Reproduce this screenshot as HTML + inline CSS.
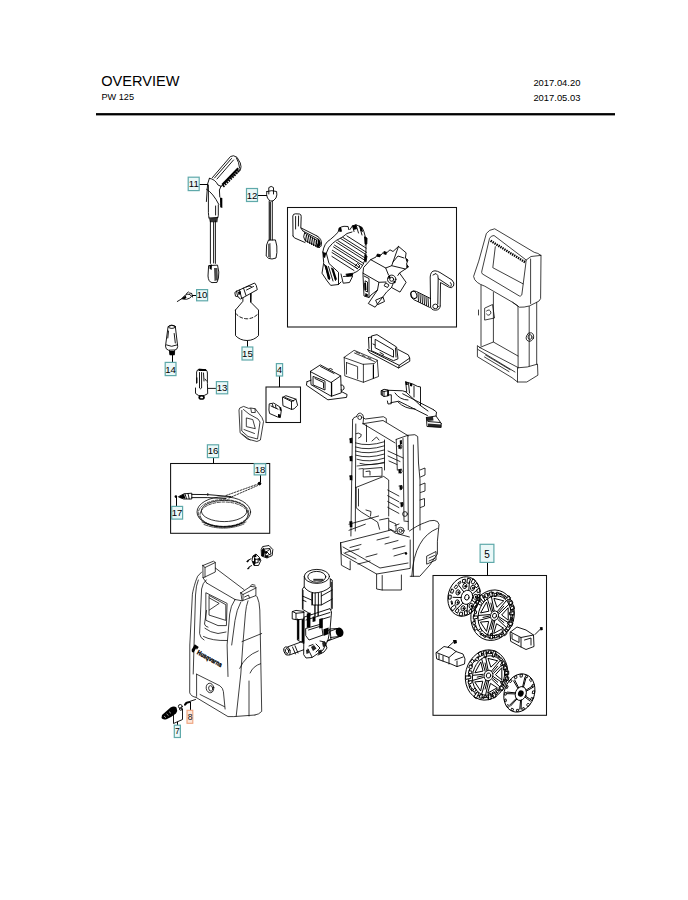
<!DOCTYPE html>
<html><head><meta charset="utf-8"><title>Overview PW 125</title>
<style>
html,body{margin:0;padding:0;background:#fff;}
body{width:688px;height:900px;overflow:hidden;position:relative;font-family:"Liberation Sans",sans-serif;}
svg{position:absolute;left:0;top:0;}
.t{font-family:"Liberation Sans",sans-serif;fill:#000;}
.lb rect{fill:#eaf8f8;stroke:#5fa9aa;stroke-width:1.2;}
.lb text{font-family:"Liberation Sans",sans-serif;font-size:9.6px;fill:#000;text-anchor:middle;}
.d{fill:none;stroke:#000;stroke-width:0.9;stroke-linejoin:round;stroke-linecap:round;}
.d2{fill:none;stroke:#000;stroke-width:1.3;}
.f{fill:#000;stroke:none;}
.l{stroke-width:0.85;stroke-dasharray:2.8,1.0;stroke-linecap:butt;}
.w{fill:#fff;stroke:#000;stroke-width:0.9;stroke-linejoin:round;}
</style></head>
<body>
<svg width="688" height="900" viewBox="0 0 688 900">
<!-- header -->
<text class="t" x="101.3" y="85.7" font-size="14.9" textLength="78.2" lengthAdjust="spacingAndGlyphs">OVERVIEW</text>
<text class="t" x="101.4" y="100.2" font-size="9.6" textLength="32.6" lengthAdjust="spacingAndGlyphs">PW 125</text>
<text class="t" x="533.4" y="86" font-size="9.9" textLength="47" lengthAdjust="spacingAndGlyphs">2017.04.20</text>
<text class="t" x="533.4" y="100.8" font-size="9.9" textLength="47" lengthAdjust="spacingAndGlyphs">2017.05.03</text>
<rect x="96" y="113.1" width="519" height="2.3" fill="#000"/>

<!-- group boxes -->
<g fill="none" stroke="#111" stroke-width="1.05">
<rect x="287.5" y="207.5" width="169" height="119.5"/>
<rect x="170.6" y="463.5" width="99.1" height="69.8"/>
<rect x="266" y="387" width="34.5" height="35.5"/>
<rect x="433" y="575.5" width="113.5" height="139.8"/>
</g>

<!-- PARTS_START -->
<!-- gun 11 -->
<g class="d">
<path d="M212.4,177.6 L230.5,156.5 Q233.4,154.6 237,157.3 L240.3,163 Q241.6,167 240.5,169.6 L221,186.3"/>
<path d="M214.5,178 L231.5,158.5 M217,179 L233.5,160"/>
<path d="M236.5,158 Q239,162 239.6,168" />
<path d="M209.4,178.3 Q215,179 218,185 L221,186.3"/>
<path d="M209.4,178.3 L207.6,184 L206.4,201.5"/>
<path d="M208.4,185 L208.4,212.6 Q208.6,216 209,217.8"/>
<path d="M206.6,189.3 Q213,193 218.8,204.4"/>
<path d="M221,186.3 L219.4,190 L219.8,197 M218.3,205 L218.3,215.5 L217.7,217.8"/>
<path d="M215.6,206 L215.6,215"/>
<path d="M209,218 L217.7,217.5"/>
<path d="M210.4,221 L210.4,263.4 M215.4,221 L215.4,263.4 M213.6,222 L213.6,263"/>
<path d="M208.6,266 L208,276 Q208.4,282 212,282.6 L217,282.4 Q219,279 218.8,272 L217.6,265.5 Z"/>
</g>
<path class="f" d="M221.5,184 L237.5,167.5 L239,169 L223,185.5 Z"/>
<path d="M223,186.5 L240,169.5" stroke="#000" stroke-width="2.6" stroke-dasharray="1.6,1.0" fill="none"/>
<path d="M226,181 L236.5,170 M229,178 L236,171" stroke="#000" stroke-width="0.8" stroke-dasharray="1.5,1.2" fill="none"/>
<path class="f" d="M220,197.4 L222.3,198 L222.3,207.9 L220.2,207.2 Z"/>
<path class="f" d="M209,218.2 L218,217.6 L217.4,222.2 L210,222.2 Z" opacity="0.8"/>
<path class="f" d="M209.4,265 L212,264.6 L211.6,270 L209.6,268.8 Z"/>
<path class="f" d="M214,268 L217.4,268 L218,280 L214.5,281 Z" opacity="0.7"/>
<!-- lance 12 -->
<g class="d">
<path d="M268.8,194 L268.8,187.6 Q271.2,185.2 273.5,187.6 L273.5,194"/>
<path d="M266.8,191.5 Q266,195 267.5,198 L270,201 L273,201 L276,198 Q277.4,195 276.6,191.5 Q272,189.8 266.8,191.5"/>
<path d="M269.2,201 L269.2,240 M272.3,201 L272.3,240"/>
<path d="M268.3,240.5 L266.6,245 L266.2,256 Q268,259.2 272,259 L276,258 Q277.4,253 276.8,246 L275.5,240.3 Z"/>
</g>
<path class="f" d="M269.6,202 L270.8,202 L270.8,240 L269.6,240 Z"/>
<path class="f" d="M268,244 L270.5,243 L271,258 L268,257 Z" opacity="0.6"/>

<!-- box1: reel parts -->
<g class="d">
<!-- L crank left -->
<path d="M293,236 L292.8,216 Q293,213.8 295.5,213.8 L299.5,214 Q301.4,214.5 301.2,216.5 L300.8,228 L303,231"/>
<path d="M295.6,216.5 L295.6,229 M298.6,216 L298.4,226"/>
<path d="M293,236 Q294,238.5 297,239 L305,242.5"/>
<path d="M301.2,228 L317,236 M303,231 L319,239.5"/>
<path d="M304.5,233 L316.5,240 Q315.5,245 319.5,247.5 L305,240.5 Q302.5,237 304.5,233 Z"/>
<path d="M317,236 Q322,238.5 321.5,244.5 Q321,248.4 317,247.3"/>
<path d="M306.5,235 L305.5,241 M308.5,236 L307.5,242.2 M310.5,237 L309.5,243.3 M312.5,238 L311.5,244.4 M314.5,239 L313.5,245.5 M316.5,240 L315.8,246.5" stroke="#000" stroke-width="1.1" fill="none"/>
<path class="f" d="M317.5,238.5 Q321,240 320.8,244.5 Q320,247.5 317.3,247 L316.3,246.5 Q318.5,243 317.5,238.5 Z"/>
<!-- hub 1 -->
<path d="M322.8,252 Q324,243 330.3,239.5 Q334,236.5 338.1,232.2 L339,228.5 Q341,226.5 344,226.3 L348.1,226.5 L348.8,229.6 M349.9,229.6 L352.5,225.8 L356,224.8 L362.1,227.4 L363.8,231.3 Q366.6,238 366,246.2 Q366.2,253 365.1,259.2 Q363.5,265 360.3,268.8 Q357,272 353.4,273.2 L346,274.2"/>
<path d="M326.3,253.1 Q328,247 332.4,243.5 Q336,240 342,237.4 L347,233.5 L352,232"/>
<path d="M346.9,235.9 L366.1,248.1 M342.8,237.3 L366.6,252.4 M340.7,238.5 L366.4,254.8 M337.9,240.7 L365.6,258.3 M336.4,242.3 L364.8,260.3 M334.5,245.1 L363.2,263.2 M333.5,246.9 L361.9,264.9 M332.4,250.3 L359.4,267.4 M332.0,252.5 L357.5,268.7 M331.9,256.4 L354.0,270.5"/>
<path d="M352.5,225.8 L354,231.5 M356,224.8 L358.5,233 M359.5,226 L362,235"/>
<path d="M322.8,252 L323.7,262.7 L322,273.2 L327.2,281 L330.7,285.4 L338.5,284.5 L341,282 M326.3,253.1 L329,263.5 L338.5,272.3 L338.5,284.5"/>
<path d="M328.5,266.5 L333,281 M331.5,268 L335.5,280.5 M324.5,264.5 L329.5,279.5"/>
<path d="M341,274 L343.2,283.2 L349.5,282.5 L352.5,276.5 M343.5,276.5 L349,276"/>
<path d="M364.5,237 L367,238 L366.8,244 L365,245 M364.5,255 L367,256 L366,262"/>
<path d="M355,266 L357.5,263.5 L360,266 L357.5,268.5 Z"/>
<path class="f" d="M352.5,225.8 L356,224.8 L357,229 L353.5,230 Z M359.5,226 L362.1,227.4 L363,232 L360.5,231 Z"/>
<path class="f" d="M324.5,264.5 L327,266 L330.5,278.5 L328,279.5 Z M331.5,268 L333.5,268.5 L337,279.5 L335,280 Z"/>
<path class="f" d="M338.6,228 L341,226.8 L342,231.5 L339.5,232 Z M364,236.5 L367,238 L366.8,244 L364.6,244 Z M364.5,255 L367,256 L366,262 L364,261 Z"/>
<path class="f" d="M322.8,252 L326.3,253.1 L325,258 L323.2,257 Z M346,274.2 L353.4,273.2 L352.5,276.5 L346.5,276.8 Z"/>
<!-- hub 2 cross -->
<path d="M371,259.5 L376,257 L377.5,254 L381,255 L384,251.5 L387,252.5 L390,249.8 L393,251.5 L398.5,246.4 L406.1,252.8 L405.4,258 L408,260 L406.5,264 L408.5,267 L405.4,269 L399.5,273 L406.1,282.3 L400,292.1 L391.5,287.5 L386.5,292.1 L375.1,307.2 L368.3,303.5 L377.5,290 L371,295 L369,297.5 L364,296 L363,275.5 L363,273.2 L363.5,268 Z"/>
<path d="M370.6,259.6 L385.7,268 L391.7,265.7 L398.5,246.4 M385.7,268 L388.5,275"/>
<path d="M363,273.2 L378.9,282.3 L377.5,290 M378.9,282.3 L386,282"/>
<path d="M397.8,275.5 L399.5,273 M391.5,287.5 L393,284"/>
<path d="M391.7,265.7 L405.4,269 M393,262 L398,256 L404,258"/>
<path d="M364,276 L369,278.5 L369,297.5 M365.5,281 L367.5,282 L367.5,292 L365.5,291 Z"/>
<path d="M376,300 L383,297 L384.5,301.5 L378,304.5 Z"/>
<circle cx="391.7" cy="279.3" r="4.2"/>
<circle cx="391.7" cy="279.3" r="2.0"/>
<path d="M386,283 L389,285 L387.5,287.5 L384.5,286 Z"/>
<path class="f" d="M377,254 L381,255 L380,257.2 L377,256.8 Z M384,251.5 L387,252.5 L386.2,255 L383.2,254 Z M405.4,258 L408,260 L406.5,262 Z M406.5,264 L408.5,267 L406.2,268 Z"/>
<path class="f" d="M364.2,283 L366,283 L366.5,290 L364.5,290 Z M365.5,293 L368,294.5 L367.5,297 L365,296 Z"/>
<path class="f" d="M388,276 L390,275.5 L390.5,278 L388.5,279 Z M393.5,281 L395.5,280.5 L395.5,283 L393.5,283.5 Z" />
<!-- crank right -->
<path d="M430.6,307 L430.2,277 Q430.5,270.8 435,270.8 Q437.5,271 440,272.5 L452,280 Q455,283 453.5,286 Q451.5,289 448.5,287 L440.5,282.5 L440.2,306"/>
<path d="M433,275 L436,273.5 Q438.5,275 438.2,278.5 L437.8,304"/>
<path d="M438.2,278.5 L449.2,285.8 M450.5,282.5 Q452.2,284 451,286.5"/>
<path d="M440.2,306 Q440,310 435.5,310.2 Q431,310 430.6,307"/>
<ellipse cx="435.4" cy="306.4" rx="2.6" ry="2.3"/>
<path d="M430.5,298.5 L416.5,291.5 Q412,290 411,293.5 Q410,297.5 413.5,299.5 L429.5,307.3"/>
<ellipse cx="413.8" cy="294.8" rx="2.8" ry="3.8" transform="rotate(-25 413.8 294.8)"/>
<path d="M418,293 L418.5,301.5 M420,294 L420.5,302.5 M422,295 L422.5,303.5 M424,296 L424.5,304.5 M426,297 L426.5,305.5 M428,298 L428.5,306.2"/>
</g>

<!-- rear housing (top right) -->
<g class="d" style="stroke-width:0.75">
<path d="M486.6,233.1 Q489,229.5 494.7,228.8 L534.2,252.3 Q538,253 541,255.4 L540.6,298.6 Q539.5,301.5 536.7,302.3 L529.2,306 Q524,307.5 519.4,307.2 L512.6,302.3 L484.8,286.2 Q480,284.5 477.4,282.5 Q474,280 473.6,276.4 L478.6,261.5 Z"/>
<path d="M489.7,238 Q491,235.5 494,235.5 L526.2,260 L525.5,266 L521.8,294.9 Q520.5,296.5 519.4,296 L482.3,273.9 Q481.3,272.5 481.7,271.4 Z"/>
<path d="M495.3,246.7 L492.8,267.7 L523,283.8"/>
<path d="M526.2,260 L531,256.5 L541,255.4 M530.6,259 L530.6,303.5"/>
<!-- lower body -->
<path d="M481,285 L481,345.6 M493.4,292.5 L493.4,341.9"/>
<path d="M512.6,302.3 L518,306 L518.1,367.8 M529.2,306.5 L529.2,366 M536.7,302.3 L536.7,364.1"/>
<path d="M518.1,367.8 Q527,368 537.5,364.1 L537.9,375.2 L526.8,382 L517.5,382 L512,377.7 L477.4,356.7 L477.4,345.6 L479.8,347.5"/>
<path d="M479.8,347.5 L493.4,342 L518,356 M479.8,347.5 L518,367.5 M478,349.5 L515,372 M517.5,368 L517.5,382"/>
<path d="M484.5,357 L509,371.6 M485.5,355 L510,369.6"/>
<ellipse cx="530" cy="337" rx="3.6" ry="4.4" transform="rotate(20 530 337)"/>
<ellipse cx="530" cy="337" rx="2" ry="2.4"/>
<path d="M485,308 L492.5,304.5 L494.5,318 L485,320 Z M486.5,311 Q490,308 491,313 Q489,317 486.5,314"/>
<path d="M478.5,310 L478.5,315"/>
</g>
<path d="M490.6,240.8 L525.8,262.6" stroke="#000" stroke-width="2.4" stroke-dasharray="1.4,0.9" fill="none"/>

<!-- nozzle 10 -->
<g class="d">
<path d="M177.3,301.5 L183,298"/>
<path d="M182,298.5 L185,295.2 Q188,293.5 190,294.5 L191.5,296.5 Q190,298.5 187,299.2 Z"/>
<path d="M186.5,293.5 L188.5,292 M189.5,293 L191.8,293.5 M192,294.5 L192.5,297"/>
</g>
<path class="f" d="M182.3,298 L185.5,295.5 L186.5,297.7 L184,299.6 Z"/>
<!-- bottle 15 -->
<g class="d">
<path d="M235.5,310 L235.5,335.6 Q240,340.4 247,340.5 Q254,340.4 258.5,335.6 L258.5,310 L250.7,302.1 L250.7,294 M235.5,310 L242.9,301.3 L242.9,298"/>
<path d="M235.8,313.5 Q240,318.5 247,318.8 Q254,318.5 258.3,313.5" stroke-dasharray="3,2.2"/>
<path d="M236.7,291.2 L254.6,283 Q256.6,284.5 257.3,289.7 L240.6,299 Q237,297.5 236.7,291.2 Z"/>
<path d="M239.5,290 L241.5,297.7 M243.5,288 L246,295.5 M246,287 Q249,285.2 251.3,286.4 M246.5,290 L253.5,286.5"/>
<path d="M236.7,291.2 L234.8,292.5 L235.5,296.2 L237.5,296.6"/>
</g>
<path class="f" d="M250.2,293.2 L251.6,293 L251.4,302.5 L250.1,302.2 Z"/>
<path class="f" d="M238,292 L240.5,291 L241,294 L238.5,295 Z"/>
<!-- nozzle 14 -->
<g class="d">
<path d="M168.4,326.4 Q171.8,324.2 175.3,326.4 L177.7,346.5 Q177.5,349.5 175,350 L168.5,350.2 Q165.5,349.5 165.5,346.5 Z"/>
<ellipse cx="171.9" cy="326.8" rx="3.4" ry="1.6"/>
<path d="M168.5,331 L167.8,338 M174.2,333.5 L175.3,343 M166.5,345 Q171.5,347.8 177,345"/>
<path d="M169.5,350.5 L169.8,354.8 L174.5,354.8 L174.6,350.5"/>
</g>
<path class="f" d="M169.4,351 L174.6,351 L174,355 L170,355 Z"/>
<!-- part 13 -->
<g class="d">
<path d="M196.6,383.3 L196.6,372 Q197,369.3 199.5,369.3 L205.9,369.6 Q207.4,371 207.4,373 L207.4,383.5 L207.7,393.7 Q204,396 201.5,396 Q198,396 195.5,393.4 L195.5,388"/>
<path d="M199.5,372.5 L199.5,388 Q200.5,389.5 201.6,388 L201.6,372.5"/>
<path d="M203.5,373 L204,381 M205,379 L206.5,381"/>
</g>
<path class="f" d="M198.6,368.8 L206,369.2 L206.2,371 L198.5,371 Z"/>
<path class="f" d="M196.2,377.4 L197.4,377.4 L197.4,383 L196.2,383 Z"/>
<ellipse class="f" cx="201.6" cy="397.4" rx="3.2" ry="2.4"/>
<ellipse cx="201.6" cy="397.4" rx="1.5" ry="0.9" fill="#fff"/>
<line class="d" x1="208.3" y1="388.4" x2="216.4" y2="388.4"/>

<!-- part 4 contents -->
<g class="d">
<path d="M269.6,403.8 L273.7,403.1 L279.8,406.9 L281.3,410.4 L280.3,417.6 L277.7,417 L269.6,413.5 L269,410.4 Z"/>
<path d="M271,406 L278,409.2 M272.5,404.5 L273.2,407 M275.5,405.5 L276,408"/>
<path d="M282.8,397.2 L285.9,395.7 L296,399.2 L297.6,405.3 L294,408.9 L291.5,409.4 L283.3,405.9 Z"/>
<path d="M282.8,397.2 L291.5,401.5 L296,399.2 M291.5,401.5 L291.5,409.4 M285,397.5 L293.5,401"/>
</g>
<path class="f" d="M279.5,407 L281.3,407.5 L281.5,411 L279.8,410.5 Z M278,414 L280.5,414.5 L280.3,417.6 L278,417 Z"/>
<!-- part 9 -->
<g class="d" style="stroke-width:0.75">
<path d="M240.1,407.9 L243.6,406.4 L248.7,408.4 L250.8,408 L255.3,408.8 L262,417.6 L263.5,421.6 L260.4,440 L256.9,441.5 L247.2,438.9 L240.1,432.8 L239,410.4 Z"/>
<path d="M241.8,410.5 L241.8,431 L248,436.5 L257.5,439 L260,422 L258,419 L249,414 L243.5,409.5"/>
<path d="M246.7,418 L252.8,419.6 L255.3,428.7 L246.7,426.7 Z"/>
<path d="M250.8,408.4 L251.5,412.5 L255.3,412.5 L255,408.6"/>
<path d="M244,429.5 L254.5,433.5 M242,434 L250,440"/>
</g>
<!-- part A -->
<g class="d">
<path d="M310.5,371.3 L320.3,364.9 L340.7,375.9 L331.4,382.3 Z"/>
<path d="M310.5,371.3 L311,384.7 L331.4,396.3 L331.4,382.3 M340.7,375.9 L341.3,392.8 L331.4,396.3"/>
<path d="M313.4,376.5 L325,381.2 L325,390 L313.4,385 Z M315,378.5 L323.5,382.5 L323.5,388"/>
<path d="M307,381.7 L306.4,385.2 L327.9,399.8 L346.5,397.4 L347.1,394.5 L341.3,391.5 M307,381.7 L311,380.2"/>
<path d="M320.5,366.5 L334,373.5 M328.5,369.2 Q330.5,367.3 332.5,369.5"/>
<path d="M341,385 Q344.5,384.5 344,389 Q342.5,391 341,390"/>
</g>
<path class="f" d="M331,382.5 L332.2,382.5 L332.2,396 L331,396 Z"/>
<!-- part B -->
<g class="d" style="stroke-width:0.75">
<path d="M344.2,357.3 L354.1,350.3 L377.3,360.2 L374.4,363.5 L363.4,364.3 Z"/>
<path d="M344.2,357.3 L344.8,375.9 L363.4,382.3 L363.4,364.3 M377.3,360.2 L378.5,376.5 L363.4,382.3"/>
<path d="M346.5,362.6 L357.6,366.6 L357.6,378.8 M346.5,362.6 L346.5,374"/>
<path d="M354.5,353 L374.5,361.5 M356,352 L359.5,353.5 M362,355 L365,356.5 M368,357.5 L371,359"/>
</g>
<path class="f" d="M372.8,364.5 L374,364.3 L374,378.5 L372.8,378.7 Z"/>
<!-- part C -->
<g class="d">
<path d="M371.8,335.9 L377,334.6 L396.6,347 L398,358.8 L393.4,360.7 L371.8,350.9 Z"/>
<path d="M375.5,339.5 L393.5,350 L393.5,357.2 L375.5,348 Z"/>
<path d="M367.8,349.6 L399.2,365.3 L409.7,358.1 L408.4,354.9 L398,349.5"/>
<path d="M367.8,349.6 L369.5,352.5 L398.6,368 L399.2,365.3 M398.6,368 L409.8,361.2 L409.7,358.1"/>
<path d="M368.5,337.5 L371.8,337 M368.5,337.5 L369,348.5 M373,344 L375,345"/>
<path d="M380,352.5 L383.5,354.5 L382.5,356 M395.5,348 L396,357"/>
</g>
<!-- part D bracket -->
<g class="d">
<path d="M381.5,390.5 L384,389.3 L388.4,390 L388.4,395.8 L384,396.5 L381.5,395 Z M381.5,390.5 L384,391.5 L388.4,390.6 M384,391.5 L384,396.5"/>
<path d="M387.4,395 L391.3,394.8 L391.3,403.7 L388,404 L387.4,401"/>
<path d="M388.9,390.3 L402.7,390.8 L405.7,391.8 M390.8,402.7 L398.8,401.2 L407.6,405.6 L427.4,415.5"/>
<path d="M405.7,381.9 L406.7,391.8 M405.7,381.9 L412.6,383.9 L417.5,386.4 L420.5,386.9 L420.5,405.6 M414,386 L414,397 M408.5,383 L409.5,393"/>
<path d="M402.7,393.8 L433.3,409.6 M405.7,391.8 L420.5,405.6 L428,411"/>
<path d="M433.3,409.6 L436.5,412 L436,416 L441.2,423.4 M426.4,417.5 L436,416"/>
<path d="M395,393 Q400,400 408,400 M398,402 Q405,409 415,409"/>
<path d="M426.4,417.5 L427,426.5 L441.2,427.4 L441.2,423.4 M428,421.5 L440,422.5"/>
</g>
<path class="f" d="M381.5,390.5 L382.6,390.2 L382.8,395.4 L381.5,395 Z M387.2,390 L388.6,390 L388.6,396 L387.2,396 Z"/>
<path class="f" d="M426.5,417.5 L433,416.8 L433.5,420.5 L427,421 Z M428,423.5 L441,424.5 L441,427.4 L428,426.8 Z" opacity="0.85"/>
<path class="f" d="M405.4,381.8 L407.5,382 L407.8,385 L405.7,385 Z M410,383 L412.5,384 L412,386.5 L410,386 Z"/>
<!-- main frame -->
<g class="d" style="stroke-width:0.8">
<!-- left post -->
<path d="M352.6,419.6 L350.9,536 M355.8,424 L355.3,531"/>
<path d="M352.6,419.6 Q353,417 356.6,416.5 M356.6,416.5 Q357.5,412.8 360.5,413.2 Q363.6,414 363.6,418 L363,423.7"/>
<circle cx="359.8" cy="417.5" r="2"/>
<path d="M349.5,439 L352,438 L352,443 M349.5,457 L352,456 L352,461 M349.5,476 L352,475.5 L352,480 M349.5,522 L352,521.5 L352,527"/>
<path d="M356,433.6 Q358,432 361.3,434.5 Q361.5,437.5 358.5,438.2"/>
<!-- top rail -->
<path d="M363.6,418 L365.3,419 L383.4,416.7 L386.3,418.5 L386.3,422.5 L408.4,435.9 M363,423.7 L383,420.5 L386.3,422.5 M365.9,425.4 L395,442.9 M363,423.7 L365.9,425.4 M366.5,425 L366.5,441.7"/>
<!-- right post -->
<path d="M396.2,439.4 L407.8,435.3 L414.8,434.7 L417.7,436.5 L418.5,463 L420,480 L420,530 M407.8,435.3 L408.3,529.7 M396.2,439.4 L397.3,470 M403,438.5 L404,520"/>
<path d="M398,446 L401,444.5 Q403,447 401,449 M398,470 L401.5,469 Q403,472 401,473.5 M399,486 L402,485.5 Q403.5,488.5 401,490 M400,503 L403,502.5 Q404,506 401.5,507"/>
<path d="M420,470 L425,468 L425,475 L420.5,477 M420,485 L425,483 L425,491 L420.5,492.5 M420,500 L424.5,498.5 L424.5,506 L420.5,507.5"/>
<!-- motor cradle coil -->
<path d="M355.5,442.9 Q368,447 384.5,441.7 M355.5,447 Q368,451 384.5,445.8 M355.5,451.1 Q368,455 384.5,449.9 M356,455.2 Q368,459 384.5,454 M357,459.3 Q369,463 384.5,458.1 M360,463.4 Q370,466.5 384.5,462.2"/>
<path d="M384.5,440 L384.5,470 M388,451 L403.1,458 M388,456 L400,461.5 M389,461 L397,464.5"/>
<path d="M363.6,469 L382,467.5 L382,476.2 L363.6,477 Z M366,471.5 L370,471 L370,475"/>
<path d="M372,441 L376.5,437 L379,440"/>
<!-- middle lower region -->
<path d="M355.5,487.6 L383.7,476.4 L388.7,480 L388.7,516 M356.2,487.6 L356.2,507.9 L361.3,512 L377.6,522.1 L379.6,529.3 M379.6,520 L388.7,518.1 L388.7,530.3 M358.5,489 L358.5,506"/>
<path d="M387.7,495.7 L398.9,501.8 M387.7,501.5 L398.9,507.6 M387.7,507.3 L398.9,513.4 M387.7,490 L398.9,496"/>
<path d="M349,524.2 L378.6,516 M349,530.3 L365.3,524.2 M366,510 L371,511.5 L370.5,516"/>
<path d="M389.4,521 L396,524 L396,532 L389.4,529"/>
<circle cx="405" cy="514" r="2.4"/>
<circle cx="400.6" cy="530.8" r="3.5"/>
<circle cx="400.6" cy="530.8" r="1.6"/>
<path d="M395,525.5 L399,524 M404,521 L408,521.5"/>
<path class="f" d="M349.6,438.5 L351.8,438 L352,443 L349.8,443.2 Z M349.6,456.5 L351.8,456 L352,461 L349.8,461.2 Z M349.6,475.8 L351.8,475.5 L352,480 L349.8,480.2 Z M349.6,521.8 L351.8,521.5 L352,527 L349.8,527.2 Z"/>
<path class="f" d="M398.2,445.5 L400.5,444.8 L401,448.6 L398.6,449 Z M398.4,469.6 L400.8,469 L401,473 L398.6,473.4 Z M399.5,485.8 L401.8,485.4 L402,489.5 L399.7,489.8 Z M400.5,502.8 L402.8,502.4 L403,506.6 L400.7,507 Z"/>
<path d="M357,466 L384,463 M359,469 L363,468.5" fill="none" stroke="#000" stroke-width="0.7"/>
<!-- floor -->
<path d="M340.6,542.8 L391,530 M340.6,542.8 L341.4,554 L376.6,574 L410.2,568.4 L410.2,540"/>
<path d="M340.6,542.8 L341.4,565.2 L350.2,570 L350.2,561"/>
<path d="M343,547 L380,568 L408,563 M350,547.5 L361,544.5 M345.5,552.5 L359,549 M377,540 L389,537 M385,544 L398,540.5 M393,549 L405,546 M394,556 L406,552.5 M358,564 L370,561 M366,557 L377,554 M344,553 L356,559"/>
<path d="M391,530 L395,533 L409.4,537"/>
<!-- foot -->
<path d="M376.6,574 L376.6,589 L382.2,590 L401.4,590 L401.4,575 M382.2,575.5 L382.2,590"/>
<!-- fender -->
<path d="M409.4,531 Q418,525 424.5,522.8 Q430,520 434.2,520.4 Q438.5,520.8 439,524.4 L437.4,541.2 L437.4,554 Q431,565 419.8,576.3 L410.2,576.3"/>
<path d="M411.8,576.3 Q413,556 419.8,544.4 Q426,533 437.4,528.4"/>
<path d="M413.4,445 L413.4,576.3"/>
<path d="M427,556 L436,551.5 L436,560 L427,564 Z M429,558 L434.5,555.5 M429,561 L434.5,558.5"/>
</g>
<path class="f" d="M399.7,440.4 L401.8,440 L402,444 L400,444.5 Z"/>
<circle class="f" cx="406" cy="553.5" r="1.2"/>

<!-- hose 16 -->
<g class="d">
<path d="M178.7,496.6 L184,493.8 L191.8,493.2 L191.8,499 L184,499 Z"/>
<path d="M185,494 L186.5,498.5 M188,493.6 L189.2,498.8"/>
<path d="M191.8,494.4 L207.8,494.6 L231,496.6 M191.8,497.6 L207.8,497.6 L226,498.5"/>
<path d="M207.8,493.5 L207.8,495.5"/>
<ellipse cx="223.8" cy="512" rx="26.8" ry="15.2" style="stroke-width:0.8"/>
<ellipse cx="224.2" cy="511" rx="22.8" ry="10.6" style="stroke-width:0.8"/>
<ellipse cx="223.5" cy="513" rx="25.2" ry="13.4" stroke-dasharray="2.5,1.5" stroke-width="0.7"/>
<ellipse cx="224" cy="514.5" rx="24" ry="12.5" stroke-dasharray="3,1.5" stroke-width="0.7"/>
<path d="M202,522 Q223,531 246,522 M204,524.5 Q224,532 244,524" stroke-dasharray="4,1" stroke-width="0.7"/>
<path d="M226,495.5 L257.5,484.2 M229,498 L257.5,485.6" stroke-dasharray="1.6,1.4" stroke-width="0.8"/>
</g>
<path class="f" d="M179,496.6 L184,494 L185.5,498.8 L180,498 Z"/>
<circle class="f" cx="175.9" cy="496.6" r="1.3"/>
<circle class="f" cx="259.5" cy="483.6" r="1.8"/>

<!-- front cover -->
<g class="d" style="stroke-width:0.75">
<!-- tabs -->
<path d="M202.9,565.5 L213.5,561.2 L215.3,562.5 L215.3,572 L203,577.9 L202.9,565.5 Z M202.9,565.5 L205,567.5 L215.3,562.5 M205,567.5 L205,577"/>
<path d="M240.8,592.9 L250.6,586.4 L255.9,587 L255.9,595.6 L242.1,600.8 L240.8,592.9 Z M240.8,592.9 L243,594.5 L255.9,588 M243,594.5 L243,600"/>
<path d="M244.5,597 L248.5,595 L249.5,598 M250,586.5 L252,584.5 L255,585.2"/>
<!-- top surface -->
<path d="M215.3,568 L244.1,589.7 M206.8,583.1 L235,599.5 M203,577.9 L206.8,583.1 M242.1,600.8 L235,599.5"/>
<!-- left outer -->
<path d="M201.6,572 Q196.5,576 195.7,581.2 Q193,590 192.4,594.2 L189.8,645 L189.7,692.8 Q191,696.5 196,697.4"/>
<path d="M198.3,580 Q196,585 195.5,595 L193.2,674"/>
<path d="M206.2,579.9 Q202.5,583 201.6,589 L199.6,633.5 Q200,638 204,640"/>
<!-- window -->
<path d="M206.2,592.9 L227.1,603.4 L226.4,625.6 L218,625.6 L206.2,620.4 Z"/>
<path d="M209.4,595.6 L225.8,604.7 L225.8,620.4 L209.4,615.2 Z"/>
<path d="M209.4,598 L219.2,603.4 L209.4,610"/>
<path d="M204.9,628.3 Q210,632.5 218,633.5 L226,632 M203.5,636.5 Q212,641 227,640.5"/>
<path d="M206.5,610.5 L204.5,624 Q205,626.5 208,627.2"/>
<!-- right face -->
<path d="M235,599.5 Q230.5,606 229.7,613.9 L227.1,645 L228,676.5"/>
<path d="M240.8,602 Q236.5,610 235,620.4 L231.7,645"/>
<path d="M255.9,595.6 L257.2,596.9 Q259.5,602 259.8,610 L260.5,645 L261.7,711.4 Q259,714.5 255,715"/>
<path d="M248,600.8 Q246,606 245.4,613.9 L242.8,645 L240.8,674 L236.2,716.2"/>
<path d="M242,641.6 L261.7,633.5"/>
<path d="M239.7,668.4 Q245,656 258.3,650.9 M250.1,673 Q253,666 260.6,663.7"/>
<path d="M249,681 L249,716"/>
<!-- lower -->
<path d="M196.6,674.2 L219.9,685.8 Q223,688 223.4,691.6 L225.1,709"/>
<path d="M196.6,674.2 L196.6,696.3"/>
<path d="M196,697.4 L228,716.6 L233.8,716.6 L255,715 M200.1,694.5 L224.5,706.7"/>
<ellipse cx="210" cy="688" rx="3.8" ry="4.8" transform="rotate(-10 210 688)"/>
<ellipse cx="210.6" cy="688.5" rx="2" ry="2.8" transform="rotate(-10 210 688)"/>
</g>
<g transform="translate(194.3,645) rotate(29)">
<path class="f" d="M0,-1 L4.8,-0.5 L4.6,3 L3.2,2 L3,7.2 Q0.8,7.8 0,5.5 Z"/>
<text x="6.2" y="6.6" font-size="6.4" font-family="Liberation Sans" font-weight="bold" fill="#000" stroke="#000" stroke-width="0.35" textLength="27.5" lengthAdjust="spacingAndGlyphs">Husqvarna</text>
</g>

<!-- small nut/washers near cover -->
<g class="d">
<path d="M263,546.5 L269,545.5 L272.8,549.5 L272.2,555.5 L267,558 L261.5,556 L261.2,550 Z"/>
<path d="M264.5,549 L270,548.5 L271,554 L266,556 Z M266,551 L270,555 M265,553 L269.5,549.5"/>
<path d="M253,556 L256,554 L259.5,557.5 L260.8,560.5 L258.5,565.5 L254,565.5 L252.2,561 Z M255,559.5 L258,559 L258.2,562.5 L255.2,563 Z"/>
<path class="f" d="M253,556 L256,554 L256.6,556.4 L254,558 Z M259.5,557.5 L260.8,560.5 L258.8,560.8 L258,558.5 Z M254,565.5 L252.2,561 L254.3,561.3 L255.4,564 Z"/>
</g>
<path class="f" d="M261.5,550 L264,547.5 L264.5,556.5 L262,556 Z M264.5,550.5 L267.5,552.5 L266.5,554 L264.5,553 Z M264.5,556.5 L267,558 L269,556.5 L266.5,555.5 Z"/>
<path class="f" d="M254,558 L255.5,558 L255.5,563.5 L254,563 Z"/>
<path class="f" d="M246.2,561.5 L248,559.8 L249.5,560.5 L247.5,562.5 Z M249,559.8 L250.8,559 M247,568.8 L248.8,567 L250,567.8 L248,569.6 Z"/>
<path class="d" d="M248.5,560 L251,558.8 M249,567 L251.6,565.6"/>
<!-- part 7 nozzle & 8 oring -->
<path class="f" d="M162,715 L166,711.5 L170.5,707.5 Q174,705.5 176.5,707.5 Q178,710.5 176,713.5 L171,717 L166.5,719.2 Q162.5,720 161.5,718 Z"/>
<path d="M164,716 L166,717.8 M166.5,713.8 L168.5,715.6 M169,711.6 L171,713.4" stroke="#fff" stroke-width="0.6"/>
<g class="d">
<circle cx="180.3" cy="706.4" r="1.9"/>
<circle cx="180.8" cy="709" r="1.3"/>
</g>
<path class="f" d="M184,704.2 Q185.5,701.2 188.5,701.3 L190.8,701.6 L189.7,703 Q187,703 186.3,704.8 Q185.5,706 184.2,705.5 Z"/>
<path class="d" d="M189.5,701.5 L195.5,699.5"/>

<!-- motor / pump -->
<g class="d">
<ellipse cx="316.9" cy="576.4" rx="12.6" ry="7"/>
<ellipse cx="316.8" cy="576.8" rx="9" ry="5.4"/>
<path d="M304.3,576.5 L304.2,586.8 Q307,591.5 314,593 Q324,592.5 330.3,587 L330.3,579"/>
<path d="M304.2,586.8 L302.4,589 L302.4,609.2 L312.6,615.3 L332.2,608.8 L332.2,580 L330.3,579 M311.8,593.5 L311.8,605"/>
<path d="M312.5,592.6 L312.5,605 L321.3,605 L321.3,592.6 M315.2,593 L315.2,605 M318.4,593 L318.4,605"/>
<path d="M321.3,596 L332.2,590 M321.3,605 L332.2,599"/>
<path d="M302.4,596 L311.5,600 M302.4,600 L306,601.5"/>
<!-- pump lower -->
<path d="M288,646.8 L337.5,628.5 M289.5,655 L340,636.4"/>
<path d="M292.5,647 L295.5,654 M295,645.8 L298,653"/>
<ellipse cx="287" cy="651" rx="3" ry="4.3" transform="rotate(-18 287 651)"/>
<ellipse cx="287" cy="651" rx="1.6" ry="2.5" transform="rotate(-18 287 651)"/>
<path d="M304.4,617 L330,608.6 L331.5,612 L330,630 L328,640 L323,650 L312,657.5 L306,658 L303.9,655 Z" fill="#fff"/>
<path d="M292.6,611.5 L296,610.4 L303.9,611.5 L303.9,619 L297,619.8 L292.6,619 Z M292.6,611.5 L296,613.3 L303.9,612.5 M296,613.3 L296,619.5"/>
<path d="M306,620 L330,612.5 M322.8,619 L330,616.8"/>
<path d="M306,628.4 L321.3,624 L323,635 L309,640 L306,636 Z M308.5,630 L319.5,626.5"/>
<path d="M297.4,619 L297.4,640 L303.9,643.5 L303.9,619"/>
<path d="M308,649 L312,657 M318,655 L324,652 L327,648 L325,642 L320,641"/>
<path d="M316,644 L320,648 L316,652 M309,646 L313,644.5"/>
<path d="M325,632 L330,629.5 L331,639 L327,641"/>
<path d="M330,629 L337.5,628.5 M330.5,637.5 L340,636.4"/>
</g>
<path class="f" d="M297.4,619 L299.3,619 L299.3,640 L297.4,639.2 Z M301.7,619.5 L303.9,619 L303.9,643 L301.7,642 Z"/>
<path class="f" d="M306.8,613.4 L310.4,612.6 L310.4,627 L306.8,627.8 Z"/>
<path class="f" d="M312.6,616.8 L315.5,616 L315.5,621.2 L312.6,622 Z M319.2,619 L322.8,618 L322.8,627.7 L319.2,628.5 Z M323.5,629.2 L328.6,627.5 L328.6,634 L323.5,636 Z"/>
<path class="f" d="M314.3,605 L315.6,605 L315.6,616 L314.3,616 Z M317.5,605 L318.8,605 L318.8,616 L317.5,616 Z"/>
<path class="f" d="M313.3,578.8 L323.4,578.8 L323.4,580.8 L313.3,580.8 Z" opacity="0.8"/>
<ellipse class="f" cx="339.6" cy="632.2" rx="3.8" ry="4.8" transform="rotate(-18 339.6 632.2)"/>
<path class="f" d="M311,647 L314,645 L316.5,648.5 L313,651 Z M318,650.5 L321.5,649.5 L322,653.5 L318.5,654 Z M306,650 L308.5,649 L309,653 L306.5,654 Z M322,642.5 L325,641.5 L326,646 L323,647 Z" opacity="0.85"/>
<path class="f" d="M330.8,582 L332.3,582 L332.3,608 L330.8,608.5 Z" opacity="0.7"/>
<path class="f" d="M302.4,590 L303.8,590 L303.8,609 L302.4,608.6 Z" opacity="0.6"/>
<!-- wheels box 5 -->
<!-- axle block right -->
<g class="d">
<path d="M510.4,632 L517,627 L526,630 L533.5,635 L534,646.5 L526,649.5 L521,647 L511,641.5 Z"/>
<path d="M510.4,632 L521,637.5 L521,647 M521,637.5 L533.5,635 M512,634 L512,639 L519,642.5 L519,637.5"/>
<path d="M524.5,640 L531,638 L531,645"/>
<path d="M535,634.5 L541,628.5"/>
</g>
<path class="f" d="M539.8,627.2 L542.5,627 L542.8,630 L540.5,630.5 Z"/>
<!-- axle block left -->
<g class="d">
<path d="M436.3,652.5 L444,646.5 L451,648 L456,651.5 L463,654 L465,659 L464.5,664 L457,666.6 L451,664 L437,659 Z"/>
<path d="M436.3,652.5 L449,657.5 L449,664 M449,657.5 L456,651.5 M439,654.5 L439,659.5 M443,656 L443,661"/>
<path d="M455,660 L463,657 M457,666.6 L457,661"/>
<path d="M448,647 L454,641.5"/>
</g>
<path class="f" d="M453,640 L456.5,640 L457,643 L454,644 Z"/>
<!-- hub cap 1 -->
<g transform="translate(464,596.5) rotate(16)">
<ellipse class="d" cx="0" cy="0" rx="15.8" ry="20" stroke-width="1.3"/>
<g fill="none" stroke="#000" stroke-width="0.9" stroke-linejoin="round"><path d="M13.1,0.0 L15.9,0.0 L15.6,3.9 L12.8,3.2 Z"/><path d="M13.5,5.8 L14.8,6.4 L13.4,9.9 L12.3,9.0 Z"/><path d="M10.4,10.0 L12.4,12.3 L10.2,15.0 L8.5,12.3 Z"/><path d="M6.7,12.6 L8.3,16.3 L5.5,17.9 L4.5,13.9 Z"/><path d="M3.1,15.8 L3.6,19.4 L0.4,19.7 L0.5,16.0 Z"/><path d="M-1.1,14.1 L-1.6,17.9 L-4.5,16.8 L-3.3,13.3 Z"/><path d="M-4.7,12.4 L-6.9,17.1 L-9.6,14.7 L-6.7,10.6 Z"/><path d="M-8.9,10.4 L-9.6,11.1 L-11.2,8.1 L-10.4,7.6 Z"/><path d="M-11.8,5.9 L-14.2,6.9 L-15.0,2.8 L-12.5,2.4 Z"/><path d="M-11.8,0.0 L-14.2,0.0 L-13.9,-4.0 L-11.5,-3.3 Z"/><path d="M-9.9,-5.0 L-11.9,-5.9 L-10.7,-9.1 L-8.8,-7.7 Z"/><path d="M-8.6,-10.1 L-9.6,-11.2 L-7.6,-13.7 L-6.7,-12.4 Z"/><path d="M-4.9,-12.7 L-6.2,-15.6 L-3.5,-17.1 L-2.7,-13.9 Z"/><path d="M-1.0,-13.9 L-1.7,-18.4 L1.4,-18.7 L1.3,-14.1 Z"/><path d="M3.0,-15.2 L3.6,-19.6 L6.8,-18.4 L5.5,-14.3 Z"/><path d="M7.1,-13.6 L8.5,-16.7 L11.1,-14.3 L9.2,-11.6 Z"/><path d="M10.3,-10.0 L12.6,-12.4 L14.4,-9.1 L11.8,-7.3 Z"/><path d="M12.4,-5.3 L14.3,-6.2 L15.1,-2.5 L13.0,-2.2 Z"/></g>
<ellipse class="d" cx="3" cy="0" rx="5.7" ry="7.2" stroke-width="1.1"/>
<line class="d" x1="8.6" y1="1.4" x2="13.6" y2="3.1"/>
<ellipse class="d" cx="9.4" cy="7.0" rx="2.0" ry="2.6" stroke-width="1.0"/>
<ellipse class="f" cx="9.8" cy="7.0" rx="0.9" ry="1.2"/>
<line class="d" x1="5.6" y1="6.4" x2="7.1" y2="13.9"/>
<ellipse class="d" cx="2.3" cy="11.6" rx="2.0" ry="2.6" stroke-width="1.0"/>
<ellipse class="f" cx="2.7" cy="11.6" rx="0.9" ry="1.2"/>
<line class="d" x1="0.7" y1="6.6" x2="-3.6" y2="14.2"/>
<ellipse class="d" cx="-4.9" cy="7.5" rx="2.0" ry="2.6" stroke-width="1.0"/>
<ellipse class="f" cx="-4.5" cy="7.5" rx="0.9" ry="1.2"/>
<line class="d" x1="-2.5" y1="1.8" x2="-10.4" y2="3.8"/>
<ellipse class="d" cx="-6.9" cy="-2.3" rx="2.0" ry="2.6" stroke-width="1.0"/>
<ellipse class="f" cx="-6.5" cy="-2.3" rx="0.9" ry="1.2"/>
<line class="d" x1="-1.5" y1="-4.4" x2="-8.3" y2="-9.4"/>
<ellipse class="d" cx="-2.1" cy="-10.3" rx="2.0" ry="2.6" stroke-width="1.0"/>
<ellipse class="f" cx="-1.7" cy="-10.3" rx="0.9" ry="1.2"/>
<line class="d" x1="2.9" y1="-7.2" x2="1.2" y2="-15.6"/>
<ellipse class="d" cx="5.9" cy="-10.6" rx="2.0" ry="2.6" stroke-width="1.0"/>
<ellipse class="f" cx="6.3" cy="-10.6" rx="0.9" ry="1.2"/>
<line class="d" x1="7.4" y1="-4.6" x2="10.9" y2="-10.0"/>
<ellipse class="d" cx="11.0" cy="-2.9" rx="2.0" ry="2.6" stroke-width="1.0"/>
<ellipse class="f" cx="11.4" cy="-2.9" rx="0.9" ry="1.2"/>
<ellipse class="d" cx="3" cy="0" rx="2.2" ry="2.8"/>
</g>
<!-- wheel 1 -->
<g transform="translate(492.6,615.2) rotate(15)">
<ellipse class="d" cx="0" cy="0" rx="21.5" ry="25.5" stroke-width="1.3"/>
<ellipse class="d" cx="2.0" cy="0" rx="16.2" ry="20.2" stroke-width="1.1"/>
<g fill="none" stroke="#000" stroke-width="0.9" stroke-linejoin="round"><path d="M16.8,1.9 L21.8,2.5 L21.3,5.8 L16.4,4.4 Z"/><path d="M17.4,7.0 L20.0,8.1 L18.9,11.0 L16.5,9.6 Z"/><path d="M14.3,10.6 L18.7,14.0 L17.0,16.7 L13.0,12.6 Z"/><path d="M13.2,15.9 L14.7,17.8 L12.6,19.9 L11.3,17.7 Z"/><path d="M9.1,17.9 L10.2,20.3 L7.9,21.6 L7.0,19.0 Z"/><path d="M4.8,17.7 L6.0,22.9 L3.4,23.5 L2.8,18.2 Z"/><path d="M1.2,20.7 L1.2,22.5 L-1.3,22.3 L-1.2,20.6 Z"/><path d="M-3.2,21.1 L-3.5,22.6 L-6.0,21.7 L-5.5,20.3 Z"/><path d="M-6.5,17.3 L-7.6,20.0 L-9.8,18.5 L-8.3,16.0 Z"/><path d="M-11.4,17.1 L-13.0,19.2 L-15.0,16.9 L-13.2,15.0 Z"/><path d="M-14.2,12.8 L-16.1,14.5 L-17.6,11.7 L-15.5,10.4 Z"/><path d="M-13.7,6.9 L-17.6,8.8 L-18.4,5.8 L-14.3,4.6 Z"/><path d="M-16.2,2.9 L-18.1,3.2 L-18.3,0.2 L-16.4,0.2 Z"/><path d="M-17.9,-2.2 L-19.1,-2.4 L-18.6,-5.5 L-17.4,-5.1 Z"/><path d="M-14.3,-6.4 L-19.5,-8.6 L-18.3,-11.7 L-13.4,-8.7 Z"/><path d="M-12.5,-10.4 L-17.5,-14.3 L-15.7,-17.1 L-11.2,-12.4 Z"/><path d="M-10.8,-14.8 L-13.2,-17.9 L-11.1,-20.0 L-9.0,-16.5 Z"/><path d="M-7.2,-17.3 L-9.0,-21.2 L-6.6,-22.5 L-5.2,-18.4 Z"/><path d="M-3.4,-18.5 L-4.1,-21.6 L-1.6,-22.1 L-1.3,-19.0 Z"/><path d="M0.4,-21.9 L0.4,-23.1 L3.0,-23.0 L2.9,-21.8 Z"/><path d="M4.8,-21.0 L5.1,-22.5 L7.5,-21.6 L7.1,-20.2 Z"/><path d="M9.2,-20.0 L10.5,-23.1 L13.0,-21.4 L11.4,-18.5 Z"/><path d="M12.5,-16.3 L14.6,-19.3 L16.6,-16.9 L14.2,-14.4 Z"/><path d="M15.0,-12.1 L18.0,-14.7 L19.5,-11.9 L16.2,-9.8 Z"/><path d="M15.5,-7.1 L19.7,-9.0 L20.5,-6.0 L16.2,-4.7 Z"/><path d="M18.9,-3.1 L20.0,-3.2 L20.2,-0.2 L19.1,-0.2 Z"/></g>
<g fill="none" stroke="#000" stroke-width="0.9" stroke-linejoin="round"><path d="M19.2,4.9 L19.6,5.0 L19.2,6.9 L18.8,6.7 Z"/><path d="M17.0,9.6 L18.7,10.6 L17.9,12.3 L16.2,11.2 Z"/><path d="M14.7,14.0 L15.5,14.8 L14.4,16.2 L13.6,15.3 Z"/><path d="M11.7,17.9 L12.2,18.7 L10.8,19.8 L10.4,18.9 Z"/><path d="M7.8,20.7 L8.0,21.3 L6.5,21.9 L6.3,21.3 Z"/><path d="M3.5,22.2 L3.5,22.8 L1.9,23.0 L1.9,22.4 Z"/><path d="M-1.1,21.9 L-1.2,23.5 L-2.9,23.2 L-2.6,21.7 Z"/><path d="M-5.4,20.8 L-5.9,22.3 L-7.4,21.5 L-6.9,20.1 Z"/><path d="M-9.5,18.5 L-9.8,19.0 L-11.1,17.9 L-10.8,17.4 Z"/><path d="M-13.0,15.1 L-13.6,15.8 L-14.7,14.3 L-14.1,13.7 Z"/><path d="M-15.2,10.5 L-16.1,11.1 L-16.8,9.3 L-15.9,8.9 Z"/><path d="M-17.3,5.8 L-18.2,6.0 L-18.5,4.1 L-17.7,3.9 Z"/><path d="M-18.1,0.5 L-19.0,0.5 L-19.0,-1.5 L-18.0,-1.4 Z"/><path d="M-17.6,-4.9 L-18.3,-5.1 L-17.9,-7.0 L-17.2,-6.7 Z"/><path d="M-15.9,-9.9 L-16.8,-10.4 L-16.0,-12.1 L-15.1,-11.5 Z"/><path d="M-13.1,-14.0 L-14.4,-15.3 L-13.3,-16.8 L-12.1,-15.4 Z"/><path d="M-9.9,-17.6 L-10.8,-19.1 L-9.4,-20.1 L-8.6,-18.6 Z"/><path d="M-6.3,-20.8 L-6.6,-21.7 L-5.0,-22.3 L-4.8,-21.4 Z"/><path d="M-1.8,-21.3 L-2.0,-23.3 L-0.3,-23.5 L-0.2,-21.5 Z"/><path d="M2.7,-22.0 L2.7,-22.8 L4.3,-22.5 L4.2,-21.7 Z"/><path d="M6.9,-20.2 L7.4,-21.9 L8.9,-21.2 L8.3,-19.5 Z"/><path d="M10.8,-17.9 L11.8,-19.7 L13.1,-18.6 L12.0,-16.8 Z"/><path d="M14.4,-14.9 L15.2,-15.8 L16.3,-14.3 L15.4,-13.5 Z"/><path d="M16.9,-10.5 L18.1,-11.3 L18.8,-9.5 L17.6,-8.9 Z"/><path d="M19.0,-5.8 L19.5,-6.0 L19.9,-4.1 L19.4,-4.0 Z"/><path d="M19.2,-0.5 L20.4,-0.5 L20.4,1.5 L19.1,1.4 Z"/></g>
<line class="d" x1="7.0" y1="0.1" x2="17.6" y2="3.3"/>
<line class="d" x1="6.2" y1="2.8" x2="16.4" y2="8.3"/>
<line class="d" x1="7.0" y1="1.5" x2="12.8" y2="4.2" stroke-width="0.6"/>
<path class="d" d="M6.4,7.3 L13.9,9.7 L6.1,17.0 Z"/>
<line class="d" x1="3.5" y1="4.8" x2="4.3" y2="19.6"/>
<line class="d" x1="0.7" y1="4.8" x2="0.2" y2="19.7"/>
<line class="d" x1="2.1" y1="5.2" x2="2.2" y2="14.1" stroke-width="0.6"/>
<path class="d" d="M-2.2,7.4 L-1.7,17.2 L-9.7,10.1 Z"/>
<line class="d" x1="-2.1" y1="2.9" x2="-12.2" y2="8.8"/>
<line class="d" x1="-3.0" y1="0.2" x2="-13.6" y2="3.9"/>
<line class="d" x1="-2.9" y1="1.7" x2="-8.7" y2="4.6" stroke-width="0.6"/>
<path class="d" d="M-5.0,-2.7 L-12.2,0.9 L-9.3,-10.8 Z"/>
<line class="d" x1="-2.0" y1="-3.0" x2="-9.1" y2="-14.2"/>
<line class="d" x1="0.3" y1="-4.7" x2="-5.8" y2="-17.3"/>
<line class="d" x1="-1.1" y1="-4.2" x2="-4.8" y2="-11.3" stroke-width="0.6"/>
<path class="d" d="M1.9,-9.1 L-3.1,-16.6 L6.7,-16.8 Z"/>
<line class="d" x1="3.6" y1="-4.7" x2="9.4" y2="-17.5"/>
<line class="d" x1="5.9" y1="-3.1" x2="12.8" y2="-14.6"/>
<line class="d" x1="5.0" y1="-4.2" x2="8.5" y2="-11.6" stroke-width="0.6"/>
<path class="d" d="M8.9,-2.9 L13.1,-11.2 L16.3,0.4 Z"/>
<ellipse class="d" cx="2.0" cy="0" rx="4.0" ry="4.8" stroke-width="1.1"/>
<ellipse class="d" cx="2.0" cy="0" rx="2.0" ry="2.4"/>
</g>
<!-- wheel 2 -->
<g transform="translate(486.6,675) rotate(15)">
<ellipse class="d" cx="0" cy="0" rx="21" ry="25.4" stroke-width="1.3"/>
<ellipse class="d" cx="2.0" cy="0" rx="15.8" ry="20.0" stroke-width="1.1"/>
<g fill="none" stroke="#000" stroke-width="0.9" stroke-linejoin="round"><path d="M15.9,1.8 L19.4,2.3 L18.9,5.2 L15.6,4.2 Z"/><path d="M16.3,6.7 L20.2,8.3 L19.1,11.4 L15.4,9.1 Z"/><path d="M13.8,10.4 L16.4,12.4 L14.9,14.8 L12.6,12.4 Z"/><path d="M11.6,14.1 L14.9,18.5 L12.8,20.6 L9.9,15.7 Z"/><path d="M8.3,16.5 L10.8,22.0 L8.3,23.4 L6.5,17.6 Z"/><path d="M5.3,20.3 L5.7,21.9 L3.2,22.5 L3.0,20.8 Z"/><path d="M1.2,20.5 L1.2,23.9 L-1.4,23.8 L-1.1,20.3 Z"/><path d="M-2.8,19.5 L-3.9,25.5 L-6.7,24.5 L-4.9,18.7 Z"/><path d="M-6.1,16.7 L-7.4,19.9 L-9.5,18.4 L-7.9,15.5 Z"/><path d="M-11.0,16.8 L-11.9,18.1 L-13.8,15.9 L-12.8,14.8 Z"/><path d="M-12.0,11.2 L-14.9,13.7 L-16.3,11.1 L-13.1,9.0 Z"/><path d="M-14.4,7.4 L-19.1,9.7 L-20.0,6.4 L-15.0,4.9 Z"/><path d="M-14.9,2.7 L-18.0,3.2 L-18.2,0.2 L-15.0,0.2 Z"/><path d="M-16.2,-2.1 L-19.2,-2.4 L-18.8,-5.6 L-15.8,-4.8 Z"/><path d="M-16.5,-7.4 L-19.1,-8.5 L-18.0,-11.7 L-15.5,-10.1 Z"/><path d="M-12.8,-10.9 L-15.0,-12.6 L-13.5,-15.1 L-11.5,-13.0 Z"/><path d="M-11.4,-15.9 L-13.9,-19.2 L-11.6,-21.4 L-9.5,-17.7 Z"/><path d="M-6.6,-16.1 L-9.2,-22.0 L-6.7,-23.4 L-4.7,-17.2 Z"/><path d="M-3.9,-21.1 L-4.5,-23.9 L-1.8,-24.5 L-1.5,-21.6 Z"/><path d="M0.5,-19.2 L0.4,-25.3 L3.1,-25.2 L2.6,-19.1 Z"/><path d="M4.6,-20.7 L4.9,-22.3 L7.4,-21.5 L6.9,-19.9 Z"/><path d="M8.5,-18.7 L9.3,-20.6 L11.5,-19.0 L10.5,-17.3 Z"/><path d="M10.7,-14.1 L13.4,-17.9 L15.2,-15.7 L12.1,-12.4 Z"/><path d="M14.0,-11.5 L16.7,-13.9 L18.1,-11.2 L15.1,-9.3 Z"/><path d="M16.8,-7.8 L20.3,-9.5 L21.2,-6.3 L17.6,-5.2 Z"/><path d="M19.0,-3.1 L22.1,-3.7 L22.3,-0.2 L19.1,-0.2 Z"/></g>
<g fill="none" stroke="#000" stroke-width="0.9" stroke-linejoin="round"><path d="M18.1,4.7 L19.2,5.0 L18.8,6.9 L17.7,6.4 Z"/><path d="M16.8,9.7 L18.2,10.5 L17.4,12.2 L16.1,11.3 Z"/><path d="M14.6,14.1 L15.5,15.1 L14.4,16.6 L13.5,15.5 Z"/><path d="M11.2,17.4 L12.0,18.8 L10.6,19.8 L9.9,18.4 Z"/><path d="M7.7,20.6 L8.0,21.5 L6.4,22.1 L6.2,21.2 Z"/><path d="M3.4,22.1 L3.5,23.3 L1.9,23.5 L1.9,22.3 Z"/><path d="M-1.0,21.6 L-1.1,22.5 L-2.6,22.2 L-2.5,21.3 Z"/><path d="M-5.3,20.8 L-5.5,21.4 L-7.0,20.7 L-6.8,20.1 Z"/><path d="M-8.9,17.8 L-9.8,19.5 L-11.2,18.3 L-10.1,16.8 Z"/><path d="M-12.7,15.1 L-13.4,15.9 L-14.5,14.4 L-13.7,13.6 Z"/><path d="M-15.3,10.8 L-15.7,11.0 L-16.4,9.3 L-16.0,9.1 Z"/><path d="M-16.3,5.6 L-17.3,5.9 L-17.7,4.0 L-16.6,3.8 Z"/><path d="M-17.7,0.5 L-18.0,0.5 L-17.9,-1.4 L-17.6,-1.4 Z"/><path d="M-16.5,-4.7 L-17.5,-5.0 L-17.0,-6.8 L-16.2,-6.5 Z"/><path d="M-15.0,-9.5 L-16.0,-10.1 L-15.2,-11.8 L-14.3,-11.1 Z"/><path d="M-12.9,-14.0 L-13.5,-14.7 L-12.5,-16.2 L-11.8,-15.4 Z"/><path d="M-9.7,-17.6 L-10.6,-19.1 L-9.2,-20.2 L-8.4,-18.6 Z"/><path d="M-5.9,-19.9 L-6.4,-21.7 L-4.9,-22.4 L-4.4,-20.6 Z"/><path d="M-1.8,-21.9 L-1.9,-23.0 L-0.3,-23.1 L-0.2,-22.1 Z"/><path d="M2.6,-21.8 L2.7,-23.3 L4.3,-23.0 L4.1,-21.5 Z"/><path d="M6.9,-20.7 L7.1,-21.5 L8.6,-20.8 L8.3,-20.0 Z"/><path d="M10.7,-18.1 L11.2,-19.1 L12.5,-17.9 L11.9,-17.0 Z"/><path d="M14.0,-14.8 L15.1,-16.0 L16.2,-14.5 L15.0,-13.4 Z"/><path d="M16.6,-10.5 L17.2,-11.0 L17.9,-9.2 L17.2,-8.9 Z"/><path d="M18.2,-5.7 L19.5,-6.1 L19.9,-4.1 L18.6,-3.9 Z"/><path d="M18.8,-0.5 L20.1,-0.5 L20.0,1.5 L18.8,1.4 Z"/></g>
<line class="d" x1="7.5" y1="0.1" x2="17.3" y2="3.3"/>
<line class="d" x1="6.6" y1="3.0" x2="16.1" y2="8.2"/>
<line class="d" x1="7.5" y1="1.7" x2="12.6" y2="4.1" stroke-width="0.6"/>
<path class="d" d="M6.3,7.2 L13.6,9.6 L6.0,16.9 Z"/>
<line class="d" x1="3.6" y1="5.3" x2="4.2" y2="19.4"/>
<line class="d" x1="0.5" y1="5.3" x2="0.2" y2="19.5"/>
<line class="d" x1="2.1" y1="5.7" x2="2.2" y2="14.0" stroke-width="0.6"/>
<path class="d" d="M-2.1,7.4 L-1.6,17.0 L-9.4,10.0 Z"/>
<line class="d" x1="-2.5" y1="3.2" x2="-11.9" y2="8.7"/>
<line class="d" x1="-3.5" y1="0.2" x2="-13.2" y2="3.9"/>
<line class="d" x1="-3.4" y1="1.8" x2="-8.5" y2="4.5" stroke-width="0.6"/>
<path class="d" d="M-4.8,-2.7 L-11.9,0.9 L-9.1,-10.7 Z"/>
<line class="d" x1="-2.4" y1="-3.3" x2="-8.8" y2="-14.0"/>
<line class="d" x1="0.1" y1="-5.2" x2="-5.6" y2="-17.1"/>
<line class="d" x1="-1.4" y1="-4.6" x2="-4.6" y2="-11.2" stroke-width="0.6"/>
<path class="d" d="M1.9,-9.0 L-3.0,-16.4 L6.6,-16.6 Z"/>
<line class="d" x1="3.8" y1="-5.2" x2="9.2" y2="-17.3"/>
<line class="d" x1="6.3" y1="-3.4" x2="12.5" y2="-14.4"/>
<line class="d" x1="5.3" y1="-4.7" x2="8.4" y2="-11.4" stroke-width="0.6"/>
<path class="d" d="M8.7,-2.9 L12.8,-11.0 L15.9,0.4 Z"/>
<ellipse class="d" cx="2.0" cy="0" rx="4.4" ry="5.3" stroke-width="1.1"/>
<ellipse class="d" cx="2.0" cy="0" rx="2.2" ry="2.6"/>
</g>
<!-- hub cap 2 -->
<g transform="translate(519.4,693) rotate(20)">
<ellipse class="d" cx="0" cy="0" rx="15" ry="19.6" stroke-width="1.3"/>
<g fill="none" stroke="#000" stroke-width="0.8" stroke-linejoin="round"><path d="M12.8,0.0 L14.4,0.0 L14.2,2.9 L12.7,2.6 Z"/><path d="M11.7,6.4 L13.7,7.4 L12.6,10.1 L10.8,8.7 Z"/><path d="M9.2,12.0 L10.4,13.5 L8.6,15.5 L7.6,13.7 Z"/><path d="M4.9,15.6 L5.5,17.5 L3.4,18.4 L3.0,16.4 Z"/><path d="M0.0,17.0 L0.0,19.1 L-2.3,18.8 L-2.0,16.8 Z"/><path d="M-5.0,15.8 L-5.6,17.7 L-7.7,16.3 L-6.8,14.6 Z"/><path d="M-9.3,12.1 L-10.3,13.4 L-11.7,11.1 L-10.6,10.1 Z"/><path d="M-11.7,6.3 L-13.2,7.2 L-13.9,4.4 L-12.3,3.9 Z"/><path d="M-13.0,0.0 L-14.4,0.0 L-14.2,-2.9 L-12.9,-2.7 Z"/><path d="M-12.0,-6.5 L-13.5,-7.3 L-12.5,-10.0 L-11.1,-8.9 Z"/><path d="M-8.9,-11.7 L-10.4,-13.6 L-8.7,-15.6 L-7.4,-13.4 Z"/><path d="M-4.8,-15.2 L-5.7,-17.8 L-3.4,-18.8 L-2.9,-16.0 Z"/><path d="M-0.0,-17.1 L-0.0,-18.8 L2.2,-18.6 L2.1,-16.9 Z"/><path d="M5.0,-15.7 L5.6,-17.7 L7.7,-16.4 L6.8,-14.5 Z"/><path d="M9.0,-11.7 L10.4,-13.5 L11.9,-11.3 L10.3,-9.7 Z"/><path d="M11.7,-6.3 L13.7,-7.4 L14.4,-4.5 L12.3,-3.9 Z"/></g>
<ellipse class="d" cx="1.5" cy="0" rx="5.4" ry="7.1" stroke-width="1.0"/>
<line class="d" x1="6.9" y1="0.8" x2="13.2" y2="2.5" stroke-width="0.7"/>
<line class="d" x1="6.7" y1="1.9" x2="13.0" y2="4.0" stroke-width="0.7"/>
<line class="d" x1="4.3" y1="6.0" x2="7.0" y2="14.3" stroke-width="0.7"/>
<line class="d" x1="3.6" y1="6.5" x2="5.9" y2="15.0" stroke-width="0.7"/>
<line class="d" x1="-0.3" y1="6.6" x2="-3.9" y2="15.3" stroke-width="0.7"/>
<line class="d" x1="-1.1" y1="6.2" x2="-5.0" y2="14.7" stroke-width="0.7"/>
<line class="d" x1="-3.6" y1="2.3" x2="-11.3" y2="4.8" stroke-width="0.7"/>
<line class="d" x1="-3.8" y1="1.2" x2="-11.6" y2="3.3" stroke-width="0.7"/>
<line class="d" x1="-3.0" y1="-3.8" x2="-9.6" y2="-9.3" stroke-width="0.7"/>
<line class="d" x1="-2.5" y1="-4.7" x2="-8.9" y2="-10.6" stroke-width="0.7"/>
<line class="d" x1="0.9" y1="-7.0" x2="-0.2" y2="-16.4" stroke-width="0.7"/>
<line class="d" x1="1.8" y1="-7.0" x2="1.0" y2="-16.5" stroke-width="0.7"/>
<line class="d" x1="5.3" y1="-5.0" x2="10.0" y2="-11.2" stroke-width="0.7"/>
<line class="d" x1="5.9" y1="-4.1" x2="10.8" y2="-10.0" stroke-width="0.7"/>
<ellipse class="f" cx="1.5" cy="0" rx="2.8" ry="3.3"/>
</g>
<!-- PARTS_END -->

<!-- leaders -->
<g fill="none" stroke="#000" stroke-width="1">
<line x1="199" y1="184.5" x2="208" y2="184.5"/>
<line x1="257.5" y1="195.5" x2="267" y2="195.5"/>
<line x1="192" y1="295.5" x2="196.5" y2="295.5"/>
<line x1="247.5" y1="341" x2="247.5" y2="347"/>
<line x1="172.5" y1="355" x2="172.5" y2="362.4"/>
<line x1="279.5" y1="376" x2="279.5" y2="387"/>
<line x1="213.5" y1="457.6" x2="213.5" y2="463.4"/>
<line x1="260.5" y1="475" x2="260.5" y2="482"/>
<line x1="176.5" y1="506.4" x2="176.5" y2="497"/>
<line x1="487.5" y1="562.4" x2="487.5" y2="575.4"/>
<line x1="190.5" y1="702" x2="190.5" y2="710.3"/>
<polyline points="182.5,709 182.5,719.5 173.5,723.5 173.5,715" stroke-width="0.9"/>
<line x1="177.5" y1="721.8" x2="177.5" y2="725.2"/>
</g>

<!-- labels -->
<g class="lb">
<rect x="188.2" y="177.2" width="11" height="13.4"/><text x="193.8" y="187.4">11</text>
<rect x="246.5" y="188.5" width="11" height="13"/><text x="252" y="198.5">12</text>
<rect x="196.6" y="289.6" width="11" height="11.2"/><text x="202.1" y="298">10</text>
<rect x="242" y="347" width="10.8" height="13"/><text x="247.4" y="357">15</text>
<rect x="165.2" y="362.4" width="10.8" height="13.2"/><text x="170.6" y="372.5">14</text>
<rect x="216.4" y="381.6" width="11.3" height="12.2"/><text x="222" y="390.8">13</text>
<rect x="276.4" y="363.6" width="6.2" height="12.4"/><text x="279.5" y="373.3">4</text>
<rect x="207.4" y="444.8" width="11.2" height="12.8"/><text x="213" y="454">16</text>
<rect x="254.2" y="463.7" width="11.5" height="11.2"/><text x="260" y="472.8">18</text>
<rect x="171.7" y="506.4" width="10.9" height="12.7"/><text x="177.1" y="516.3">17</text>
<rect x="480.1" y="544.3" width="13.8" height="18.1"/><text x="487" y="558.4" style="font-size:10px">5</text>
<rect x="174.3" y="725.2" width="6.1" height="12.3"/><text x="177.4" y="734.2" style="font-size:8.5px">7</text>
</g>
<g>
<rect x="187" y="710.3" width="5.8" height="13" fill="#fbe6da" stroke="#eea27c" stroke-width="1.1"/>
<text x="190" y="719.8" font-size="8.5" text-anchor="middle" font-family="Liberation Sans" fill="#111">8</text>
</g>
</svg>
</body></html>
